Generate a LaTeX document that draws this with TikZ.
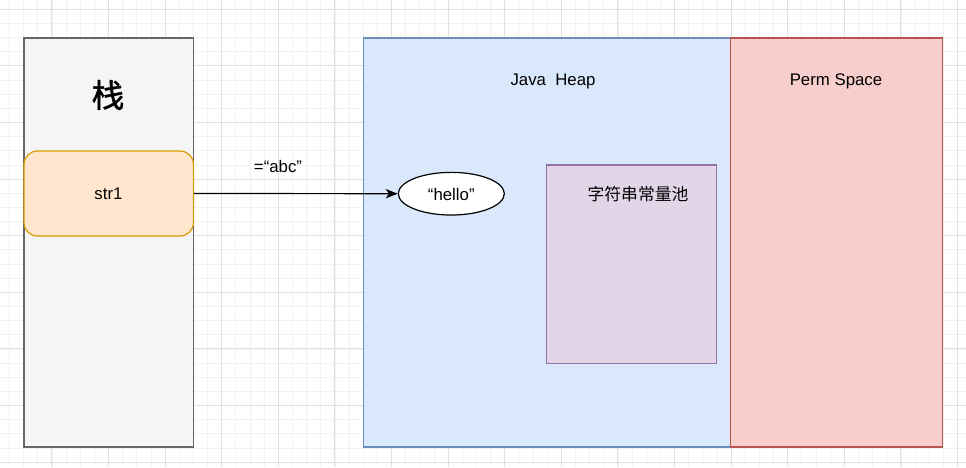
\documentclass[tikz,border=0pt]{standalone}
\usepackage{fontspec}
\setmainfont{Liberation Sans}
\newfontfamily\cjk{Noto Sans CJK SC}
\newfontfamily\cjkmed[FakeBold=1.3]{Noto Sans CJK SC}
\usetikzlibrary{arrows.meta,shapes.geometric}
\definecolor{gridminor}{HTML}{F1F1F1}
\definecolor{gridmajor}{HTML}{E0E0E0}
\definecolor{stackfill}{HTML}{F5F5F5}
\definecolor{stackdraw}{HTML}{666666}
\definecolor{strfill}{HTML}{FFE6CC}
\definecolor{strdraw}{HTML}{D79B00}
\definecolor{heapfill}{HTML}{DAE8FC}
\definecolor{heapdraw}{HTML}{6C8EBF}
\definecolor{permfill}{HTML}{F8CECC}
\definecolor{permdraw}{HTML}{B85450}
\definecolor{poolfill}{HTML}{E1D5E7}
\definecolor{pooldraw}{HTML}{9673A6}
\tikzset{
  area/.style={rectangle, draw, line width=0.9pt, inner sep=0pt},
  lbl/.style={font=\fontsize{12.6pt}{14pt}\selectfont, inner sep=0pt},
  ptr/.style={-{Stealth[length=9pt,width=7pt,inset=2.5pt]}, line width=0.9pt, black},
}
\begin{document}
\begin{tikzpicture}[x=0.75pt,y=-0.75pt]
\useasboundingbox (0,0) rectangle (966,467);
\fill[white] (0,0) rectangle (966,467);
\begin{scope}
\clip (0,0) rectangle (966,467);
\foreach \i in {0,...,70} {
  \pgfmathsetmacro\xx{-4.7+14.15*\i}
  \draw[gridminor, line width=0.6pt] (\xx,0) -- (\xx,467);
}
\foreach \i in {0,...,34} {
  \pgfmathsetmacro\yy{-4.85+14.15*\i}
  \draw[gridminor, line width=0.6pt] (0,\yy) -- (966,\yy);
}
\foreach \i in {0,...,18} {
  \pgfmathsetmacro\xx{-4.7+56.6*\i}
  \draw[gridmajor, line width=0.75pt] (\xx,0) -- (\xx,467);
}
\foreach \i in {0,...,9} {
  \pgfmathsetmacro\yy{-47.3+56.6*\i}
  \draw[gridmajor, line width=0.75pt] (0,\yy) -- (966,\yy);
}
\end{scope}

% stack
\node[area, fill=stackfill, draw=stackdraw, minimum width=127.1pt, minimum height=306.75pt] (stack) at (108.75,242.5) {};
\node[inner sep=0pt, font=\cjkmed\fontsize{24.5pt}{26pt}\selectfont] (stacklbl) at (108,95) {栈};
\node[area, rounded corners=10pt, fill=strfill, draw=strdraw, minimum width=127.1pt, minimum height=63.75pt] (str1) at (108.75,193.5) {};
\node[lbl] (str1lbl) at (108.5,194) {str1};

% heap
\node[area, fill=heapfill, draw=heapdraw, minimum width=275.6pt, minimum height=306.75pt] (heap) at (547,242.5) {};
\node[lbl] (heaplbl) at (553,81) {Java\ \ Heap};

% perm
\node[area, fill=permfill, draw=permdraw, minimum width=158.9pt, minimum height=306.75pt] (perm) at (836.65,242.5) {};
\node[lbl] (permlbl) at (836,81) {Perm Space};

% pool
\node[area, fill=poolfill, draw=pooldraw, minimum width=127.5pt, minimum height=148.7pt] (pool) at (631.7,264.2) {};
\node[lbl, font=\cjk\fontsize{12.6pt}{14pt}\selectfont] (poollbl) at (638,194) {字符串常量池};

% hello
\node[ellipse, draw, line width=0.9pt, fill=white, minimum width=79.5pt, minimum height=32pt, inner sep=0pt] (hello) at (451.3,193.7) {};
\node[lbl] (hellolbl) at (451.3,194) {“hello”};

% pointer
\draw[ptr] (str1.east) -- (hello.west);
\node[lbl] (abc) at (278,166) {=“abc”};
\end{tikzpicture}
\end{document}
